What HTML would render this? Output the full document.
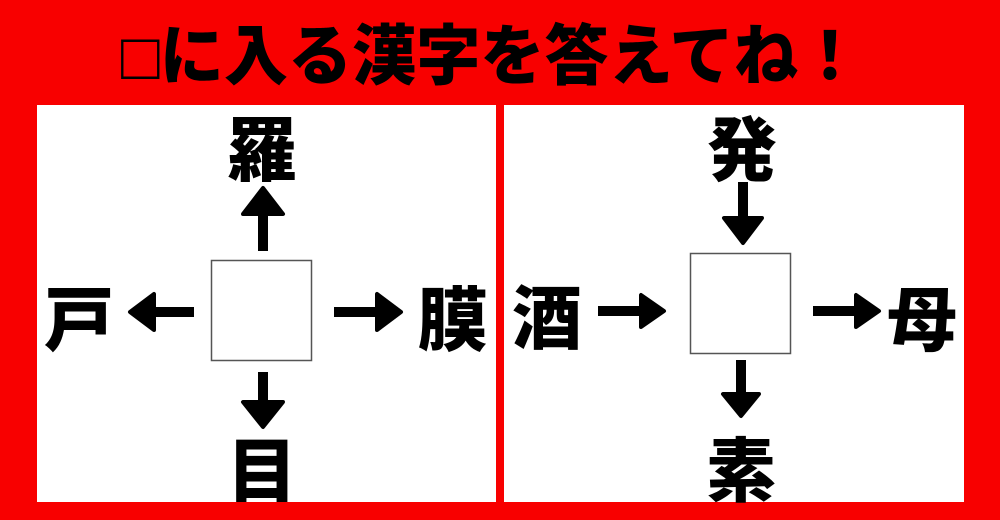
<!DOCTYPE html>
<html><head><meta charset="utf-8"><style>
html,body{margin:0;padding:0;background:#f80000;}
svg{display:block}
text{font-family:"Liberation Sans","Noto Sans CJK JP",sans-serif;font-weight:900;fill:#000}
</style></head><body>
<svg width="1000" height="520" viewBox="0 0 1000 520" xmlns="http://www.w3.org/2000/svg">
<rect width="1000" height="520" fill="#f80000"/>
<text x="121" y="79" font-size="60" textLength="741" lengthAdjust="spacingAndGlyphs" transform="translate(0,-8) scale(1,1.1)">□に入る漢字を答えてね！</text>
<rect x="37" y="105" width="459" height="397" fill="#fff"/>
<rect x="504" y="105" width="460" height="397" fill="#fff"/>
<rect x="496" y="105" width="8" height="390" fill="#f80000"/>
<rect x="211.5" y="260.5" width="100" height="100" fill="#fff" stroke="#555" stroke-width="1.5"/>
<g font-size="70" text-anchor="middle">
<text x="262" y="175">羅</text>
<text x="79" y="345">戸</text>
<text x="453" y="345">膜</text>
<text x="262" y="496">目</text>
<text x="742" y="175">発</text>
<text x="547" y="343">酒</text>
<text x="922" y="345">母</text>
<text x="741" y="496">素</text>
</g>
<g fill="#000" stroke="#000" stroke-linejoin="round" stroke-width="4">
<rect x="258" y="210" width="10" height="41" stroke="none"/>
<polygon points="263,188 283,214 243,214"/>
<rect x="150" y="307" width="44" height="10" stroke="none"/>
<polygon points="130,312 154,294 154,330"/>
<rect x="334" y="307" width="46" height="10" stroke="none"/>
<polygon points="401,312 377,294 377,330"/>
<rect x="258" y="372" width="10" height="36" stroke="none"/>
<polygon points="263,427 243,402 283,402"/>
<rect x="738" y="182" width="10" height="40" stroke="none"/>
<polygon points="743,243 724,218 762,218"/>
<rect x="598" y="306" width="46" height="10" stroke="none"/>
<polygon points="664,311 641,295 641,327"/>
<rect x="813" y="306" width="46" height="10" stroke="none"/>
<polygon points="879,311 856,295 856,327"/>
<rect x="736" y="360" width="10" height="36" stroke="none"/>
<polygon points="741,416 723,394 759,394"/>
</g>
<rect x="690.5" y="253.5" width="100" height="100" fill="#fff" stroke="#555" stroke-width="1.5"/>
</svg>
</body></html>
